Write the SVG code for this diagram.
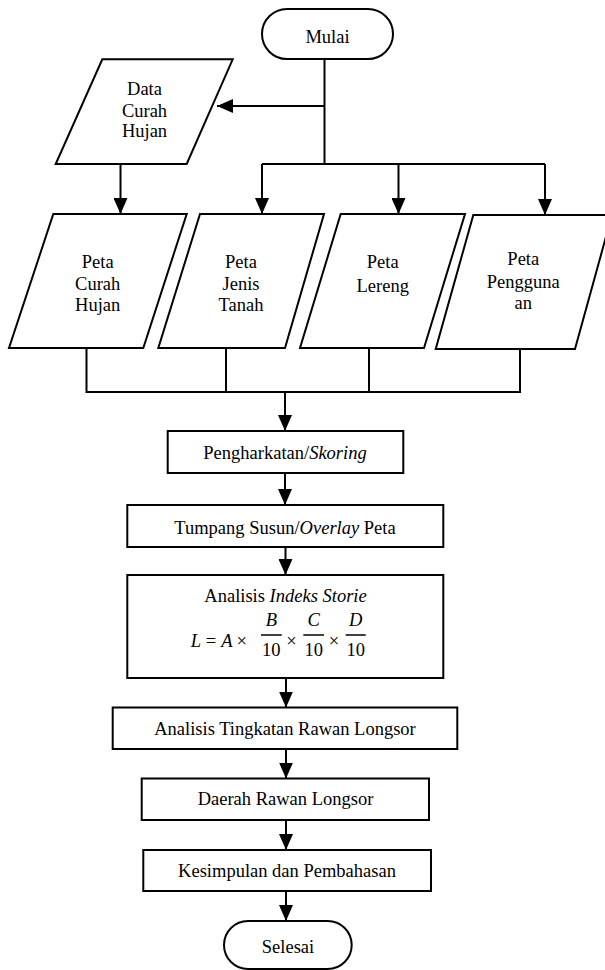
<svg xmlns="http://www.w3.org/2000/svg" width="605" height="970" viewBox="0 0 605 970">
<defs>
<style>
.s{fill:#fff;stroke:#000;stroke-width:2}
.c{fill:none;stroke:#000;stroke-width:2}
.ca{fill:none;stroke:#000;stroke-width:2;marker-end:url(#ah)}
text{font-family:"Liberation Serif","Times New Roman",serif;font-size:18.5px;fill:#000;text-anchor:middle}
.i{font-style:italic}
.bar{stroke:#000;stroke-width:1.5}
</style>
<marker id="ah" markerUnits="userSpaceOnUse" markerWidth="16" markerHeight="14" refX="16" refY="7" orient="auto">
<path d="M0,0 L16,7 L0,14 z" fill="#000"/>
</marker>
</defs>
<rect width="605" height="970" fill="#fff"/>
<g id="connectors">
<path class="c" d="M324.5,59 V164"/>
<path class="ca" d="M324.5,106 H217"/>
<path class="c" d="M262,164 H545"/>
<path class="ca" d="M262,164 V214"/>
<path class="ca" d="M398.5,164 V214"/>
<path class="ca" d="M545,164 V215"/>
<path class="ca" d="M120.5,164 V214"/>
<path class="c" d="M86.5,348 V392 H520 V349"/>
<path class="c" d="M226,348 V392"/>
<path class="c" d="M369,348 V392"/>
<path class="ca" d="M285,392 V431"/>
<path class="ca" d="M285,473 V505"/>
<path class="ca" d="M285.5,547 V575"/>
<path class="ca" d="M286,678 V707.5"/>
<path class="ca" d="M286,749 V778.5"/>
<path class="ca" d="M286,820 V850"/>
<path class="ca" d="M286,891 V921"/>
</g>
<g id="mulai">
<rect class="s" x="262" y="9" width="131" height="50" rx="25"/>
<text x="327.5" y="43">Mulai</text>
</g>
<g id="data-curah-hujan">
<polygon class="s" points="102.3,59.3 232.7,59.3 186.7,164 55.7,164"/>
<text x="144.5" y="95">Data</text>
<text x="144.5" y="116.5">Curah</text>
<text x="144.5" y="137">Hujan</text>
</g>
<g id="peta-curah-hujan">
<polygon class="s" points="53.3,214 186.7,214 143.3,348 9,348"/>
<text x="97.7" y="268">Peta</text>
<text x="97.7" y="289.5">Curah</text>
<text x="97.7" y="311">Hujan</text>
</g>
<g id="peta-jenis-tanah">
<polygon class="s" points="200,214 324,214 285,348 158.3,348"/>
<text x="241" y="268">Peta</text>
<text x="241" y="289.5">Jenis</text>
<text x="241" y="311">Tanah</text>
</g>
<g id="peta-lereng">
<polygon class="s" points="340.7,214 465,214 424,348 300,348"/>
<text x="382.7" y="268">Peta</text>
<text x="382.7" y="292">Lereng</text>
</g>
<g id="peta-penggunaan">
<polygon class="s" points="473.3,215 612,215 575,349 435.7,349"/>
<text x="523.3" y="265">Peta</text>
<text x="523.3" y="287.5">Pengguna</text>
<text x="523.3" y="308.5">an</text>
</g>
<g id="pengharkatan">
<rect class="s" x="167.7" y="431" width="235.6" height="42"/>
<text x="285" y="458.5">Pengharkatan/<tspan class="i">Skoring</tspan></text>
</g>
<g id="tumpang-susun">
<rect class="s" x="127.3" y="505" width="316" height="42"/>
<text x="285" y="534">Tumpang Susun/<tspan class="i">Overlay</tspan> Peta</text>
</g>
<g id="analisis-indeks">
<rect class="s" x="127.3" y="575" width="316" height="103"/>
<text x="285.5" y="602">Analisis <tspan class="i">Indeks Storie</tspan></text>
<text class="i" x="196" y="647">L</text>
<text x="211" y="647">=</text>
<text class="i" x="227" y="647">A</text>
<text x="241.7" y="647">×</text>
<text class="i" x="271.3" y="626">B</text>
<line class="bar" x1="261" y1="635" x2="281.7" y2="635"/>
<text x="271.3" y="656">10</text>
<text x="291.5" y="647">×</text>
<text class="i" x="313.7" y="626">C</text>
<line class="bar" x1="303.3" y1="635" x2="324" y2="635"/>
<text x="313.7" y="656">10</text>
<text x="334" y="647">×</text>
<text class="i" x="355.7" y="626">D</text>
<line class="bar" x1="345.7" y1="635" x2="365.7" y2="635"/>
<text x="355.7" y="656">10</text>
</g>
<g id="analisis-tingkatan">
<rect class="s" x="112.7" y="707.5" width="344.6" height="41.5"/>
<text x="285" y="735">Analisis Tingkatan Rawan Longsor</text>
</g>
<g id="daerah-rawan">
<rect class="s" x="141.7" y="778.5" width="287.3" height="41.5"/>
<text x="285.5" y="805">Daerah Rawan Longsor</text>
</g>
<g id="kesimpulan">
<rect class="s" x="143.3" y="850" width="287.7" height="41"/>
<text x="287" y="877">Kesimpulan dan Pembahasan</text>
</g>
<g id="selesai">
<rect class="s" x="224" y="921" width="127.7" height="48" rx="24"/>
<text x="288" y="953">Selesai</text>
</g>
</svg>
